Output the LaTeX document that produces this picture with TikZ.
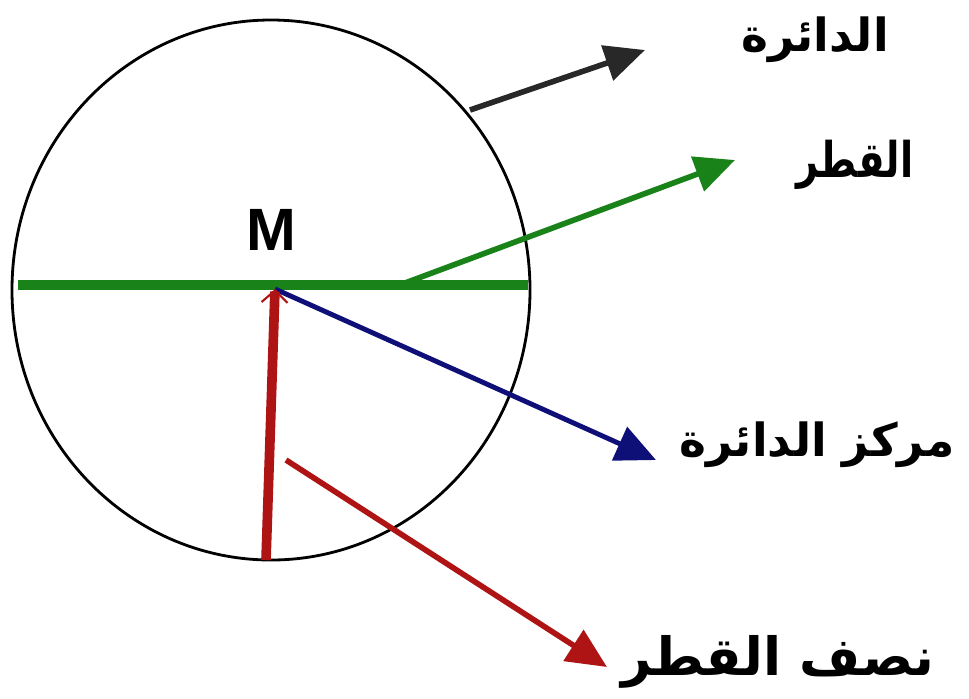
\documentclass[tikz,border=0pt]{standalone}
\usepackage{fontspec}
\setmainfont{Liberation Sans}
\newfontfamily\arabicfont[Script=Arabic]{DejaVu Sans}
\TeXXeTstate=1
\usetikzlibrary{arrows.meta,shapes.geometric}
\definecolor{cgreen}{RGB}{25,130,25}
\definecolor{cblue}{RGB}{15,15,120}
\definecolor{cred}{RGB}{175,20,20}
\definecolor{cdark}{RGB}{40,40,40}
\tikzset{
  lbl/.style={font=\arabicfont\bfseries\fontsize{26}{30}\selectfont, inner sep=0pt},
  tipbig/.style={-{Triangle[length=40*0.02cm,width=36*0.02cm]}},
}
\begin{document}
\begin{tikzpicture}[x=0.02cm,y=-0.02cm]
\useasboundingbox (0,0) rectangle (969,698);
% circle
\node[draw=black, line width=1.6pt, ellipse, minimum width=518*0.02cm, minimum height=540*0.02cm, inner sep=0pt] (circ) at (271,290) {};
% points
\coordinate (M) at (275,289);
\coordinate (dL) at (18,285);
\coordinate (dR) at (528,285);
\coordinate (gS) at (405,283);
\coordinate (bS) at (470,110);
\coordinate (rB) at (266,560);
\coordinate (rS) at (286,460);
\coordinate (gT) at (735,160);
\coordinate (kT) at (645,50);
\coordinate (uT) at (656,460);
\coordinate (rT) at (607,667);
% labels
\node[font=\bfseries\fontsize{34}{38}\selectfont, inner sep=0pt] (Mlbl) at (271,230) {M};
\node[lbl] (tCircle) at (815,40) {\beginR الدائرة\endR};
\node[lbl, font=\arabicfont\bfseries\fontsize{28}{32}\selectfont] (tDiam) at (855,165) {\scalebox{0.78}[1]{\beginR القطر\endR}};
\node[lbl] (tCenter) at (817,445) {\beginR مركز الدائرة\endR};
\node[lbl, font=\arabicfont\bfseries\fontsize{30}{34}\selectfont] (tRad) at (778,662) {\beginR نصف القطر\endR};
% diameter
\draw[cgreen, line width=5.5pt] (dL) -- (dR);
% arrows
\draw[cgreen, line width=3.2pt, tipbig] (gS) -- (gT);
\draw[cdark, line width=3.2pt, tipbig] (bS) -- (kT);
\draw[cblue, line width=2.8pt, tipbig] (M) -- (uT);
\draw[cred, line width=5.5pt, -{Straight Barb[length=12*0.02cm,width=26*0.02cm,line width=1.2pt]}] (rB) -- (M);
\draw[cred, line width=3.2pt, tipbig] (rS) -- (rT);
\end{tikzpicture}
\end{document}
